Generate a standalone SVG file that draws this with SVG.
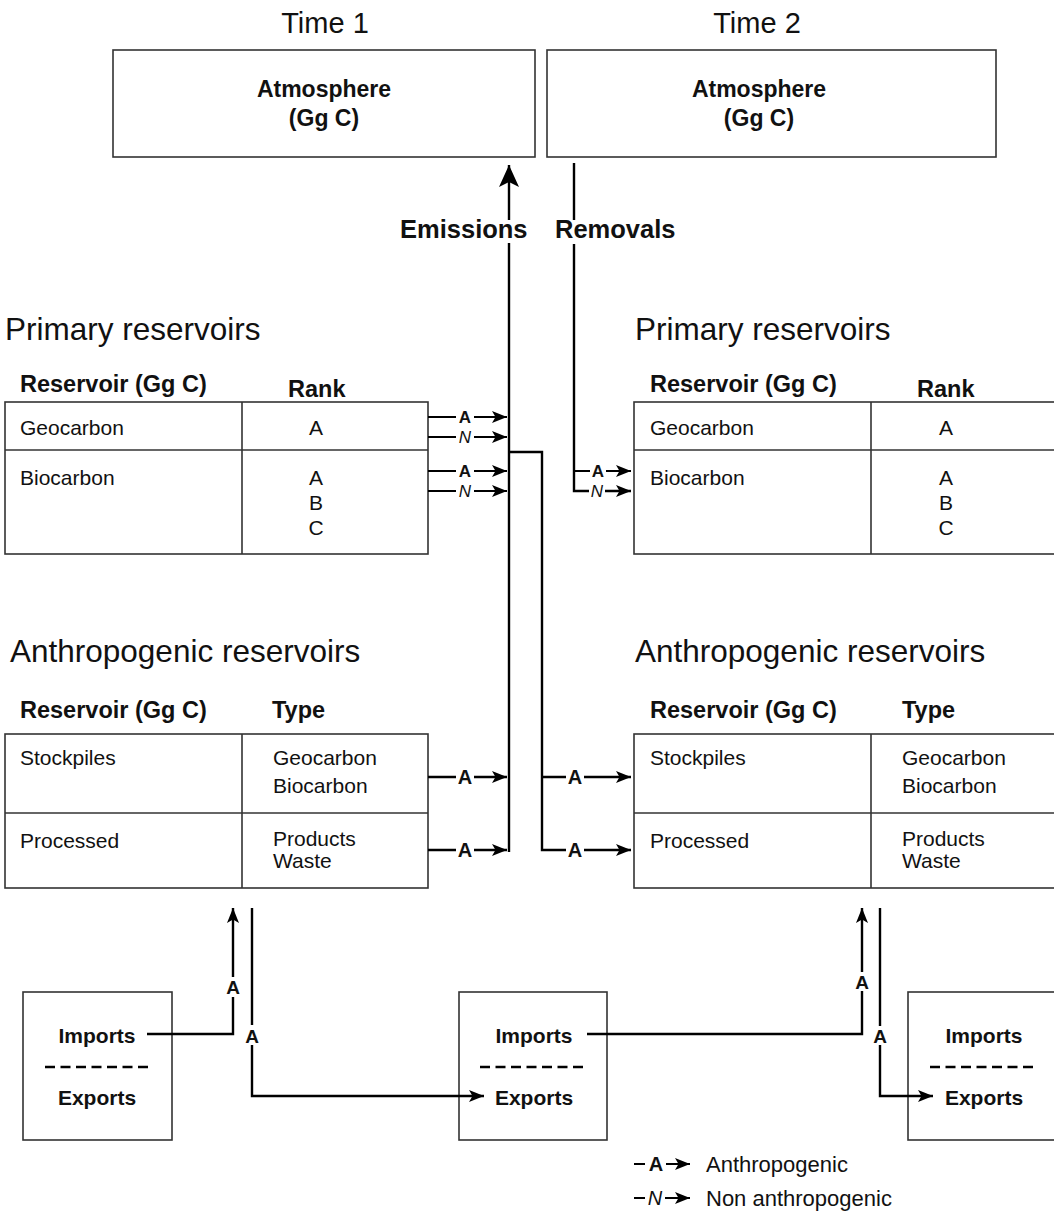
<svg xmlns="http://www.w3.org/2000/svg" width="1054" height="1213" viewBox="0 0 1054 1213">
<defs>
<style>
.box{fill:#fff;stroke:#333;stroke-width:1.6}
.ln{fill:none;stroke:#000;stroke-width:2.4}
.sl{fill:none;stroke:#000;stroke-width:2}
.dash{fill:none;stroke:#000;stroke-width:2.6;stroke-dasharray:10 5.5}
text{font-family:"Liberation Sans",Arial,Helvetica,sans-serif;fill:#111}
.title{font-size:29px;text-anchor:middle}
.atm{font-size:23px;font-weight:bold;text-anchor:middle}
.flow{font-size:25.5px;font-weight:bold}
.sec{font-size:31.5px}
.hdr{font-size:23.5px;font-weight:bold}
.cell{font-size:21px}
.mid{text-anchor:middle}
.lab{font-size:20px;font-weight:bold;text-anchor:middle}
.sa{font-size:17px;font-weight:bold;text-anchor:middle}
.sn{font-size:17px;font-style:italic;text-anchor:middle}
.labn{font-size:20px;font-style:italic;text-anchor:middle}
.labb{font-size:19px;font-weight:bold;text-anchor:middle}
.ie{font-size:21px;font-weight:bold;text-anchor:middle}
.leg{font-size:22px}
</style>
<marker id="big" markerUnits="userSpaceOnUse" markerWidth="24" markerHeight="24" viewBox="0 0 24 24" refX="22" refY="12" orient="auto">
<path d="M0,2 L22,12 L0,22 L5,12 Z" fill="#000"/>
</marker>
<marker id="ah" markerUnits="userSpaceOnUse" markerWidth="16" markerHeight="14" viewBox="0 0 16 14" refX="15" refY="7" orient="auto">
<path d="M0,1 L15,7 L0,13 L3.5,7 Z" fill="#000"/>
</marker>
</defs>
<rect width="1054" height="1213" fill="#fff"/>

<text class="title" x="325" y="33">Time 1</text>
<text class="title" x="757" y="33">Time 2</text>

<g id="atm1">
<rect class="box" x="113" y="50" width="422" height="107"/>
<text class="atm" x="324" y="97">Atmosphere</text>
<text class="atm" x="324" y="126">(Gg C)</text>
</g>
<g id="atm2">
<rect class="box" x="547" y="50" width="449" height="107"/>
<text class="atm" x="759" y="97">Atmosphere</text>
<text class="atm" x="759" y="126">(Gg C)</text>
</g>

<text class="flow" x="400" y="238">Emissions</text>
<text class="flow" x="555" y="238">Removals</text>

<text class="sec" x="5" y="340">Primary reservoirs</text>
<text class="sec" x="635" y="340">Primary reservoirs</text>

<g id="prim1">
<text class="hdr" x="20" y="392">Reservoir (Gg C)</text>
<text class="hdr" x="288" y="397">Rank</text>
<rect class="box" x="5" y="402" width="423" height="152"/>
<line class="box" x1="242" y1="402" x2="242" y2="554"/>
<line class="box" x1="5" y1="450" x2="428" y2="450"/>
<text class="cell" x="20" y="435">Geocarbon</text>
<text class="cell mid" x="316" y="435">A</text>
<text class="cell" x="20" y="485">Biocarbon</text>
<text class="cell mid" x="316" y="485">A</text>
<text class="cell mid" x="316" y="510">B</text>
<text class="cell mid" x="316" y="535">C</text>
</g>

<g id="prim2">
<text class="hdr" x="650" y="392">Reservoir (Gg C)</text>
<text class="hdr" x="917" y="397">Rank</text>
<rect class="box" x="634" y="402" width="440" height="152"/>
<line class="box" x1="871" y1="402" x2="871" y2="554"/>
<line class="box" x1="634" y1="450" x2="1074" y2="450"/>
<text class="cell" x="650" y="435">Geocarbon</text>
<text class="cell mid" x="946" y="435">A</text>
<text class="cell" x="650" y="485">Biocarbon</text>
<text class="cell mid" x="946" y="485">A</text>
<text class="cell mid" x="946" y="510">B</text>
<text class="cell mid" x="946" y="535">C</text>
</g>

<text class="sec" x="10" y="662">Anthropogenic reservoirs</text>
<text class="sec" x="635" y="662">Anthropogenic reservoirs</text>

<g id="anth1">
<text class="hdr" x="20" y="718">Reservoir (Gg C)</text>
<text class="hdr" x="272" y="718">Type</text>
<rect class="box" x="5" y="734" width="423" height="154"/>
<line class="box" x1="242" y1="734" x2="242" y2="888"/>
<line class="box" x1="5" y1="813" x2="428" y2="813"/>
<text class="cell" x="20" y="765">Stockpiles</text>
<text class="cell" x="273" y="765">Geocarbon</text>
<text class="cell" x="273" y="793">Biocarbon</text>
<text class="cell" x="20" y="848">Processed</text>
<text class="cell" x="273" y="846">Products</text>
<text class="cell" x="273" y="868">Waste</text>
</g>

<g id="anth2">
<text class="hdr" x="650" y="718">Reservoir (Gg C)</text>
<text class="hdr" x="902" y="718">Type</text>
<rect class="box" x="634" y="734" width="440" height="154"/>
<line class="box" x1="871" y1="734" x2="871" y2="888"/>
<line class="box" x1="634" y1="813" x2="1074" y2="813"/>
<text class="cell" x="650" y="765">Stockpiles</text>
<text class="cell" x="902" y="765">Geocarbon</text>
<text class="cell" x="902" y="793">Biocarbon</text>
<text class="cell" x="650" y="848">Processed</text>
<text class="cell" x="902" y="846">Products</text>
<text class="cell" x="902" y="868">Waste</text>
</g>

<g id="trade1">
<rect class="box" x="23" y="992" width="149" height="148"/>
<text class="ie" x="97" y="1043">Imports</text>
<line class="dash" x1="45" y1="1067" x2="149" y2="1067"/>
<text class="ie" x="97" y="1105">Exports</text>
</g>
<g id="trade2">
<rect class="box" x="459" y="992" width="148" height="148"/>
<text class="ie" x="534" y="1043">Imports</text>
<line class="dash" x1="480" y1="1067" x2="585" y2="1067"/>
<text class="ie" x="534" y="1105">Exports</text>
</g>
<g id="trade3">
<rect class="box" x="908" y="992" width="160" height="148"/>
<text class="ie" x="984" y="1043">Imports</text>
<line class="dash" x1="930" y1="1067" x2="1034" y2="1067"/>
<text class="ie" x="984" y="1105">Exports</text>
</g>

<g id="connectors">
<!-- emissions trunk -->
<path class="ln" d="M509 852 V243 M509 220 V165" marker-end="url(#big)"/>
<!-- branch to time 2 -->
<path class="ln" d="M509 452 H542 V850 H566 M584 850 H631" marker-end="url(#ah)"/>
<text class="lab" x="575" y="857">A</text>
<path class="ln" d="M542 777 H566 M584 777 H631" marker-end="url(#ah)"/>
<text class="lab" x="575" y="784">A</text>
<!-- removals -->
<path class="ln" d="M574 163 V220 M574 244 V491 H589 M605 491 H631" marker-end="url(#ah)"/>
<text class="sn" x="597" y="497">N</text>
<path class="sl" d="M574 471 H590 M606 471 H631" marker-end="url(#ah)"/>
<text class="sa" x="598" y="477">A</text>
<!-- primary to emissions -->
<path class="sl" d="M428 417 H456 M474 417 H507" marker-end="url(#ah)"/>
<text class="sa" x="465" y="423">A</text>
<path class="sl" d="M428 437 H456 M474 437 H507" marker-end="url(#ah)"/>
<text class="sn" x="465" y="443">N</text>
<path class="sl" d="M428 471 H456 M474 471 H507" marker-end="url(#ah)"/>
<text class="sa" x="465" y="477">A</text>
<path class="sl" d="M428 491 H456 M474 491 H507" marker-end="url(#ah)"/>
<text class="sn" x="465" y="497">N</text>
<!-- anthropogenic to emissions -->
<path class="ln" d="M428 777 H456 M474 777 H507" marker-end="url(#ah)"/>
<text class="lab" x="465" y="784">A</text>
<path class="ln" d="M428 850 H456 M474 850 H507" marker-end="url(#ah)"/>
<text class="lab" x="465" y="857">A</text>
<!-- trade left -->
<path class="ln" d="M147 1034 H233 V997 M233 977 V908" marker-end="url(#ah)"/>
<text class="labb" x="233" y="994">A</text>
<path class="ln" d="M252 908 V1025 M252 1045 V1096 H484" marker-end="url(#ah)"/>
<text class="labb" x="252" y="1043">A</text>
<!-- trade right -->
<path class="ln" d="M587 1034 H862 V991 M862 972 V908" marker-end="url(#ah)"/>
<text class="labb" x="862" y="989">A</text>
<path class="ln" d="M880 908 V1026 M880 1045 V1096 H933" marker-end="url(#ah)"/>
<text class="labb" x="880" y="1043">A</text>
</g>

<g id="legend">
<path class="sl" d="M634 1164 H645 M666 1164 H690" marker-end="url(#ah)"/>
<text class="lab" x="656" y="1171">A</text>
<text class="leg" x="706" y="1172">Anthropogenic</text>
<path class="sl" d="M634 1198 H645 M665 1198 H690" marker-end="url(#ah)"/>
<text class="labn" x="655" y="1205">N</text>
<text class="leg" x="706" y="1206">Non anthropogenic</text>
</g>
</svg>
